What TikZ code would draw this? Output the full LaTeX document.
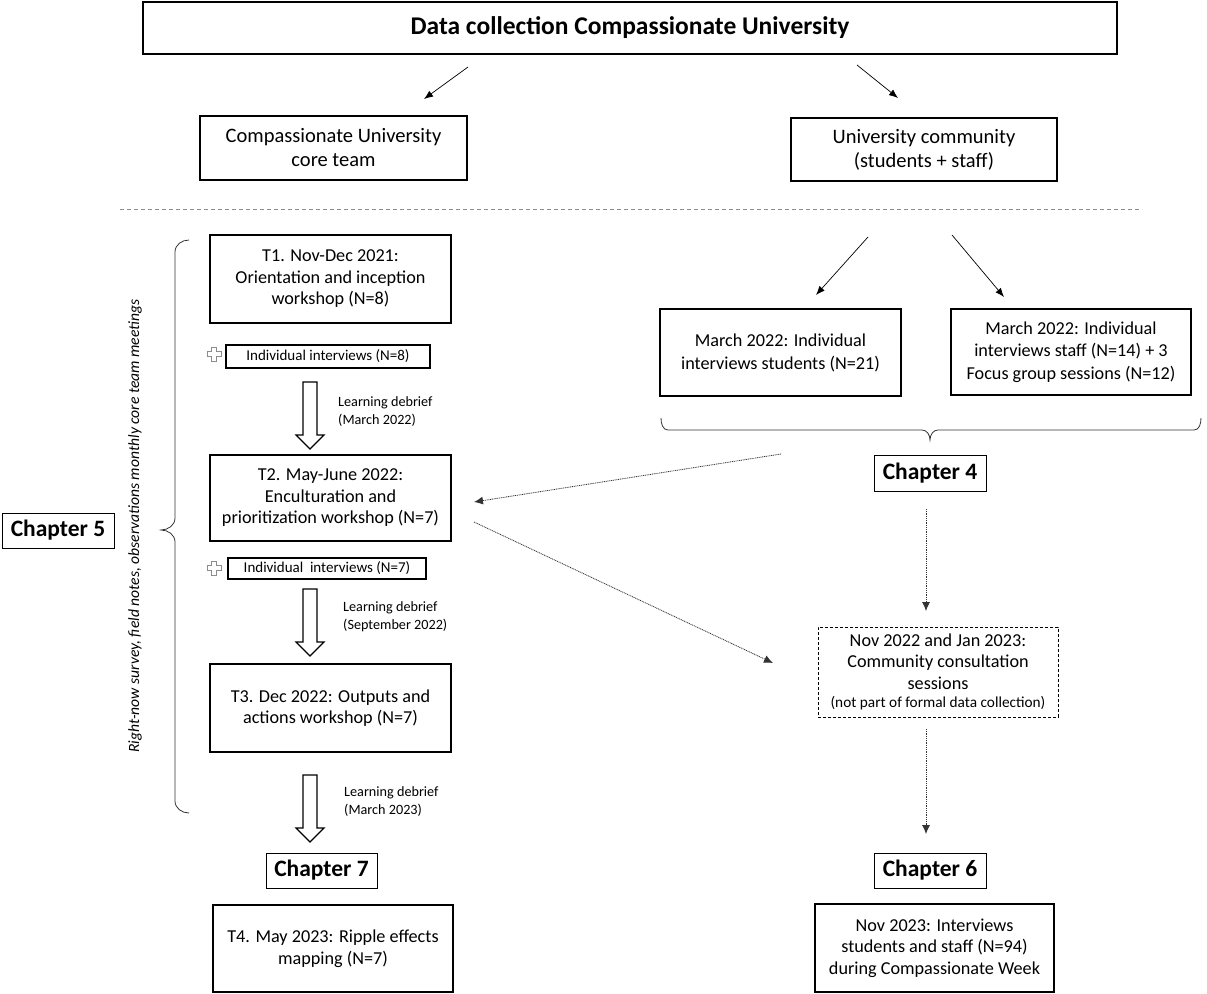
\documentclass[tikz,border=0pt]{standalone}
\usepackage{fontspec}
\setmainfont{Carlito}
\usetikzlibrary{arrows.meta,calc}
\tikzset{
  box/.style={draw, line width=1.4pt, inner sep=0pt, align=center},
  body/.style={font=\fontsize{18.2}{21.5}\selectfont},
  big/.style={font=\fontsize{20.5}{24}\selectfont},
  small/.style={font=\fontsize{15}{17}\selectfont},
  chap/.style={box, line width=1pt, font=\fontsize{23.5}{27}\selectfont\bfseries},
  thin arrow/.style={draw, line width=0.7pt, -{Latex[length=9pt,width=7pt]}},
  dot arrow/.style={draw=black!80, line width=0.8pt, dash pattern=on 1pt off 0.8pt, -{Latex[length=9pt,width=8pt]}},
  hollow/.pic={\draw[line width=1.2pt, fill=white] (-7,0) -- (-7,53) -- (-14,53) -- (0,67) -- (14,53) -- (7,53) -- (7,0) -- cycle;},
  plus/.pic={\draw[black!45, line width=0.9pt] (-2.5,-7) -- (2.5,-7) -- (2.5,-2.5) -- (7,-2.5) -- (7,2.5) -- (2.5,2.5) -- (2.5,7) -- (-2.5,7) -- (-2.5,2.5) -- (-7,2.5) -- (-7,-2.5) -- (-2.5,-2.5) -- cycle;},
  debrief/.style={anchor=north west, align=left, inner sep=0pt, font=\fontsize{14.2}{18}\selectfont}
}
\begin{document}
\begin{tikzpicture}[x=1pt,y=-1pt]
\useasboundingbox (0,0) rectangle (1207,993);

% title
\node[box, minimum width=974pt, minimum height=52pt, font=\fontsize{25.5}{29}\selectfont\bfseries] (title) at (630,28) {Data collection Compassionate University};

\node[box, big, minimum width=267pt, minimum height=64pt] (core) at (333.5,148) {Compassionate University\\core team};
\node[box, big, minimum width=266pt, minimum height=63pt] (comm) at (924,149.5) {University community\\(students + staff)};

\coordinate (a1s) at (468,67); \coordinate (a1e) at (424,99);
\coordinate (a2s) at (857,65); \coordinate (a2e) at (898,98);
\draw[thin arrow] (a1s) -- (a1e);
\draw[thin arrow] (a2s) -- (a2e);

% separator
\coordinate (sepL) at (120,209); \coordinate (sepR) at (1142,209);
\draw[black!45, line width=0.8pt, dash pattern=on 4pt off 3pt] (sepL) -- (sepR);

% left column
\node[box, body, minimum width=241pt, minimum height=88pt] (t1) at (330.5,279) {T1. Nov-Dec 2021:\\Orientation and inception\\workshop (N=8)};
\node[box, small, line width=1.2pt, minimum width=204pt, minimum height=23pt] (i8) at (328,356.5) {Individual interviews (N=8)};
\pic at (214,354) {plus};
\pic at (310,382) {hollow};
\node[debrief] (d1) at (338,396) {Learning debrief\\(March 2022)};

\node[box, body, minimum width=241pt, minimum height=86pt] (t2) at (330.5,498) {T2. May-June 2022:\\Enculturation and\\prioritization workshop (N=7)};
\node[box, small, line width=1.2pt, minimum width=198pt, minimum height=21pt] (i7) at (327,568.5) {Individual\ \ interviews (N=7)};
\pic at (214,568) {plus};
\pic at (310,589) {hollow};
\node[debrief] (d2) at (343,601) {Learning debrief\\(September 2022)};

\node[box, body, minimum width=241pt, minimum height=88pt] (t3) at (330.5,708) {T3. Dec 2022: Outputs and\\actions workshop (N=7)};
\pic at (310,775) {hollow};
\node[debrief] (d3) at (344,786) {Learning debrief\\(March 2023)};

\node[chap, minimum width=111pt, minimum height=35pt] (ch7) at (321.5,870.5) {Chapter 7};
\node[box, body, minimum width=240pt, minimum height=87pt] (t4) at (333,948.5) {T4. May 2023: Ripple effects\\mapping (N=7)};

% left brace and side text
\draw[line width=0.8pt, black!80] (189,240) to[out=180,in=90] (175,252) -- (175,518) to[out=-90,in=0] (161,530) to[out=0,in=90] (175,542) -- (175,801) to[out=-90,in=180] (189,813);
\node[rotate=90, inner sep=0pt, font=\fontsize{15.6}{18}\selectfont\itshape] (side) at (135,526) {Right-now survey, field notes, observations monthly core team meetings};
\node[chap, minimum width=112pt, minimum height=35pt] (ch5) at (58,530.5) {Chapter 5};

% right column
\coordinate (b1s) at (868,237); \coordinate (b1e) at (816,295);
\coordinate (b2s) at (952,235); \coordinate (b2e) at (1004,297);
\draw[thin arrow] (b1s) -- (b1e);
\draw[thin arrow] (b2s) -- (b2e);

\node[box, font=\fontsize{18.2}{23}\selectfont, minimum width=241pt, minimum height=87pt] (stud) at (780.5,352.5) {March 2022: Individual\\interviews students (N=21)};
\node[box, font=\fontsize{18.2}{22.5}\selectfont, minimum width=240pt, minimum height=86pt] (staff) at (1071,352) {March 2022: Individual\\interviews staff (N=14) + 3\\Focus group sessions (N=12)};

\draw[line width=0.8pt, black!80] (661,418) to[out=-90,in=180] (668,430) -- (922,430) to[out=0,in=90] (930,440) to[out=90,in=180] (938,430) -- (1194,430) to[out=0,in=-90] (1201,418);

\node[chap, minimum width=112pt, minimum height=36pt] (ch4) at (930,473) {Chapter 4};

\node[box, draw, line width=1pt, dash pattern=on 3pt off 2pt, body, minimum width=240pt, minimum height=90pt] (cons) at (938,672) {Nov 2022 and Jan 2023:\\Community consultation\\sessions\\[-3pt]{\fontsize{15.3}{17}\selectfont (not part of formal data collection)}};

\node[chap, minimum width=112pt, minimum height=35pt] (ch6) at (930,870.5) {Chapter 6};
\node[box, body, minimum width=239pt, minimum height=88pt] (fin) at (934.5,948) {Nov 2023: Interviews\\students and staff (N=94)\\during Compassionate Week};

% dotted arrows
\coordinate (c1s) at (781,454); \coordinate (c1e) at (474,502);
\coordinate (c2s) at (474,522); \coordinate (c2e) at (773,663);
\coordinate (c3s) at (926,509); \coordinate (c3e) at (926,611);
\coordinate (c4s) at (926,729); \coordinate (c4e) at (926,834);
\draw[dot arrow] (c1s) -- (c1e);
\draw[dot arrow] (c2s) -- (c2e);
\draw[dot arrow] (c3s) -- (c3e);
\draw[dot arrow] (c4s) -- (c4e);
\end{tikzpicture}
\end{document}
